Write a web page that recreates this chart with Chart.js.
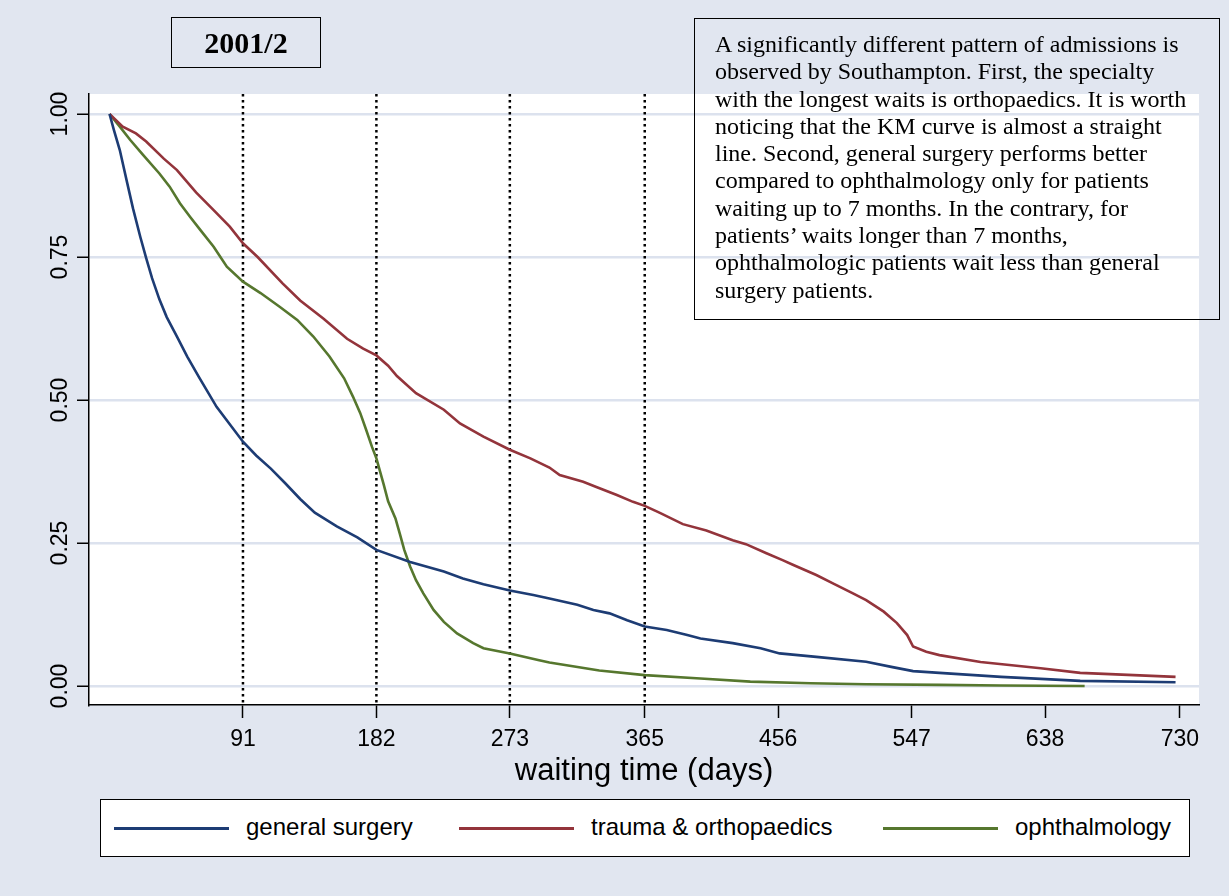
<!DOCTYPE html>
<html>
<head>
<meta charset="utf-8">
<script src="https://cdn.jsdelivr.net/npm/chart.js@4.4.1/dist/chart.umd.min.js"></script>
<style>
  body { margin: 0; background: #E1E6F0; }
  #wrap { position: relative; width: 1229px; height: 896px; overflow: hidden; }
  #chart { position: absolute; left: 0; top: 0; }
  .title-box {
    position: absolute; left: 171px; top: 17px; width: 148px; height: 49px;
    border: 1.5px solid #000; font: bold 30px "Liberation Serif", "Times New Roman", serif;
    display: flex; align-items: center; justify-content: center;
  }
  .note-box {
    position: absolute; left: 694px; top: 18px; width: 484px; height: 276px;
    border: 1.5px solid #000; padding: 12px 20px;
    font: 24px/27.3px "Liberation Serif", "Times New Roman", serif; color: #000;
  }
  .legend {
    position: absolute; left: 100px; top: 799px; width: 1088px; height: 56px;
    border: 1.5px solid #000; background: #fff;
    font: 24px "Liberation Sans", Arial, sans-serif;
  }
  .legend .sw { position: absolute; top: 27px; height: 3px; width: 115px; }
  .legend .lb { position: absolute; top: 13px; line-height: 28px; }
</style>
</head>
<body>
<div id="wrap">
  <canvas id="chart" width="1229" height="896"></canvas>
  <div class="title-box">2001/2</div>
  <div class="note-box">A significantly different pattern of admissions is observed by Southampton. First, the specialty with the longest waits is orthopaedics. It is worth noticing that the KM curve is almost a straight line. Second, general surgery performs better compared to ophthalmology only for patients waiting up to 7 months. In the contrary, for patients’ waits longer than 7 months, ophthalmologic patients wait less than general surgery patients.</div>
  <div class="legend" id="legend"></div>
</div>
<script>
// series labels and colours
const seriesNames = ["general surgery", "trauma & orthopaedics", "ophthalmology"];
const seriesColors = ["#1D3C74", "#93343B", "#56772E"];

// Kaplan-Meier curves (days, survival)
const surgDays = [0, 3, 7, 12, 16, 21, 25, 29, 34, 39, 46, 53, 61, 73, 91, 100, 110, 120, 130, 140, 155, 169, 182, 205, 228, 241, 255, 273, 289, 300, 319, 330, 341, 353, 365, 380, 394, 403, 425, 444, 457, 482, 516, 534, 548, 566, 608, 662, 727];
const surgVals = [1.0, 0.972, 0.937, 0.88, 0.835, 0.785, 0.748, 0.713, 0.676, 0.645, 0.611, 0.576, 0.54, 0.488, 0.427, 0.403, 0.38, 0.354, 0.327, 0.303, 0.279, 0.26, 0.238, 0.217, 0.2, 0.188, 0.178, 0.167, 0.159, 0.153, 0.142, 0.133, 0.127, 0.115, 0.104, 0.098, 0.089, 0.083, 0.075, 0.066, 0.057, 0.051, 0.0425, 0.033, 0.026, 0.023, 0.016, 0.009, 0.0065];

const orthoDays = [0, 9, 18, 25, 37, 46, 59, 71, 82, 91, 101, 118, 130, 146, 162, 173, 182, 190, 196, 209, 228, 239, 255, 273, 287, 300, 307, 323, 332, 346, 357, 365, 375, 391, 407, 425, 434, 448, 459, 466, 482, 493, 507, 516, 528, 537, 544, 548, 557, 566, 594, 635, 662, 727];
const orthoVals = [1.0, 0.978, 0.966, 0.952, 0.922, 0.902, 0.863, 0.832, 0.803, 0.774, 0.75, 0.704, 0.674, 0.642, 0.607, 0.59, 0.578, 0.56, 0.542, 0.512, 0.483, 0.459, 0.436, 0.413, 0.398, 0.382, 0.369, 0.357, 0.348, 0.334, 0.322, 0.315, 0.303, 0.283, 0.272, 0.255, 0.248, 0.232, 0.22, 0.212, 0.194, 0.18, 0.162, 0.15, 0.13, 0.11, 0.089, 0.069, 0.06, 0.054, 0.042, 0.031, 0.023, 0.016];

const ophDays = [0, 7, 14, 23, 34, 41, 48, 55, 62, 71, 80, 91, 103, 116, 128, 139, 150, 160, 166, 171, 175, 179, 182, 187, 190, 195, 198, 201, 205, 209, 214, 221, 228, 237, 248, 255, 273, 293, 300, 334, 365, 403, 437, 478, 516, 566, 608, 665];
const ophVals = [1.0, 0.978, 0.955, 0.928, 0.896, 0.873, 0.844, 0.82, 0.797, 0.768, 0.733, 0.707, 0.687, 0.663, 0.64, 0.611, 0.576, 0.538, 0.506, 0.477, 0.448, 0.418, 0.398, 0.352, 0.323, 0.293, 0.266, 0.238, 0.209, 0.185, 0.162, 0.133, 0.112, 0.092, 0.075, 0.066, 0.057, 0.045, 0.041, 0.027, 0.019, 0.013, 0.0076, 0.0047, 0.003, 0.002, 0.0008, 0.0];

// axis ticks and reference lines
const xTicks = [91, 182, 273, 365, 456, 547, 638, 730];
const yTicks = [0, 0.25, 0.5, 0.75, 1];
const refDays = [91, 182, 273, 365];

const X_MIN = -14, X_MAX = 743;
const Y_MIN = -0.0332, Y_MAX = 1.035;

const pts = (xs, ys) => xs.map((x, i) => ({ x: x, y: ys[i] }));

const curves = [
  pts(surgDays, surgVals),
  pts(orthoDays, orthoVals),
  pts(ophDays, ophVals)
].map((data, i) => ({
  label: seriesNames[i],
  data: data,
  borderColor: seriesColors[i],
  borderWidth: 2.6,
  pointRadius: 0,
  tension: 0,
  fill: false
}));

const refLines = refDays.map(d => ({
  label: "ref " + d,
  data: [{ x: d, y: Y_MAX }, { x: d, y: Y_MIN }],
  borderColor: "#000",
  borderWidth: 2.5,
  borderDash: [2.5, 3.5],
  pointRadius: 0,
  fill: false
}));

// white plot region
const plotBg = {
  id: "plotBg",
  beforeDraw(chart) {
    const a = chart.chartArea, ctx = chart.ctx;
    ctx.save();
    ctx.fillStyle = "#fff";
    ctx.fillRect(a.left, a.top, a.right - a.left, a.bottom - a.top);
    ctx.restore();
  }
};

const font = "'Liberation Sans', Arial, sans-serif";

new Chart(document.getElementById("chart").getContext("2d"), {
  type: "line",
  data: { datasets: curves.concat(refLines) },
  plugins: [plotBg],
  options: {
    responsive: false,
    animation: false,
    parsing: false,
    layout: { padding: { top: 94, right: 30, left: 0, bottom: 106 } },
    plugins: { legend: { display: false }, tooltip: { enabled: false } },
    scales: {
      x: {
        type: "linear",
        min: X_MIN, max: X_MAX,
        afterBuildTicks: s => { s.ticks = xTicks.map(v => ({ value: v })); },
        afterFit: s => { s.height = 85; },
        grid: { drawOnChartArea: false, drawTicks: true, tickLength: 13, tickColor: "#000", tickWidth: 1.5 },
        border: { display: true, color: "#000", width: 1.5 },
        ticks: { color: "#000", font: { family: font, size: 23 }, padding: 8, maxRotation: 0, autoSkip: false },
        title: { display: true, text: "waiting time (days)", color: "#000", font: { family: font, size: 31 }, padding: { top: -5, bottom: 0 } }
      },
      y: {
        type: "linear",
        min: Y_MIN, max: Y_MAX,
        afterBuildTicks: s => { s.ticks = yTicks.map(v => ({ value: v })); },
        afterFit: s => { s.width = 89; },
        grid: { color: "#DCE2EE", lineWidth: 2.5, drawTicks: true, tickLength: 12, tickColor: "#000", tickWidth: 1.5 },
        border: { display: true, color: "#000", width: 1.5 },
        ticks: {
          color: "#000", font: { family: font, size: 23 }, padding: -6,
          minRotation: 90, maxRotation: 90, crossAlign: "center",
          callback: v => v.toFixed(2)
        }
      }
    }
  }
});

// legend
const legend = document.getElementById("legend");
const swX = [13, 358, 782];
const lbX = [145, 490, 914];
seriesNames.forEach((name, i) => {
  const sw = document.createElement("div");
  sw.className = "sw";
  sw.style.left = swX[i] + "px";
  sw.style.background = seriesColors[i];
  legend.appendChild(sw);
  const lb = document.createElement("div");
  lb.className = "lb";
  lb.style.left = lbX[i] + "px";
  lb.textContent = name;
  legend.appendChild(lb);
});
</script>
</body>
</html>
